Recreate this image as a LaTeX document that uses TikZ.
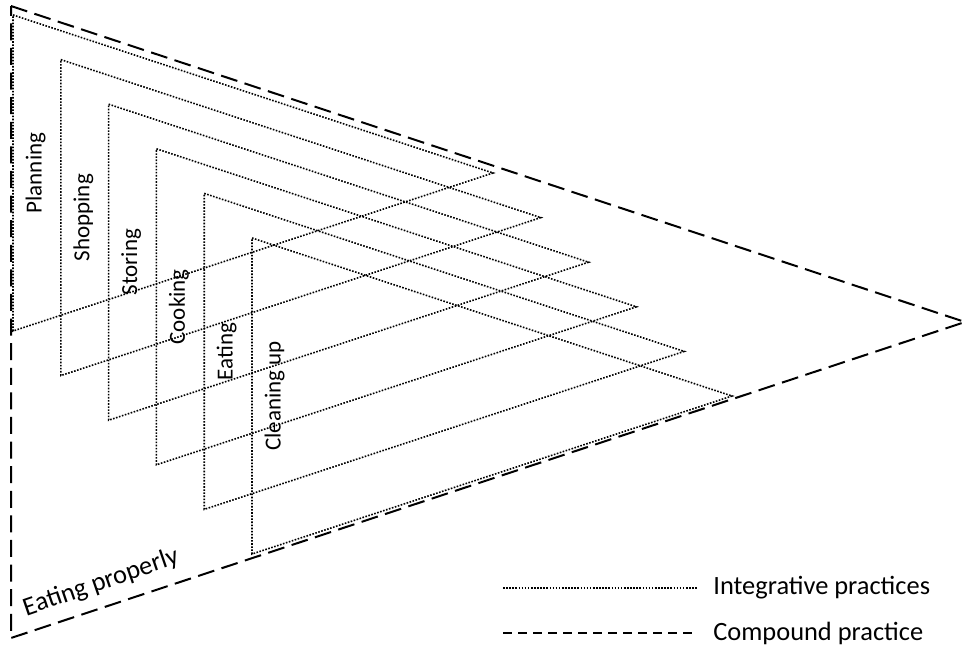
\documentclass[tikz,border=0pt]{standalone}
\usepackage{fontspec}
\setmainfont{Carlito}
\usepackage{tikz}
\usetikzlibrary{calc}
\tikzset{
  integr/.style={line width=0.8pt,dash pattern=on 0.8pt off 0.75pt},
  compnd/.style={line width=1pt,dash pattern=on 8.5pt off 3.8pt},
  compndkey/.style={line width=1pt,dash pattern=on 4.5pt off 3pt},
  lbl/.style={rotate=90,inner sep=0pt,font=\fontsize{11.5}{13}\selectfont},
  keytext/.style={anchor=west,inner sep=0pt,font=\fontsize{13.2}{15}\selectfont}
}
\begin{document}
\begin{tikzpicture}[line cap=butt,line join=miter,x=0.5pt,y=-0.5pt]
	\useasboundingbox (0,0) rectangle (967,648);
	% compound practice
	\coordinate (ctop) at (11,6);
	\coordinate (ctip) at (965,322);
	\coordinate (cbot) at (11,638);
	\draw[compnd] (ctop) -- (ctip) -- (cbot) -- cycle;
	% integrative practices
	\foreach \i/\name in {0/Planning,1/Shopping,2/Storing,3/Cooking,4/Eating,5/Cleaning up} {
		\coordinate (t\i) at ({13+47.8*\i},{15+44.6*\i});
		\coordinate (a\i) at ($(t\i)+(480,158)$);
		\coordinate (b\i) at ($(t\i)+(0,316)$);
		\draw[integr] (t\i) -- (a\i) -- (b\i) -- cycle;
		\node[lbl] (l\i) at ($(t\i)+(22.5,158)$) {\name};
	}
	\node[rotate=19,inner sep=0pt,font=\fontsize{13.2}{15}\selectfont] (whole) at (101,583) {Eating properly};
	% key
	\coordinate (k1a) at (503,588);
	\coordinate (k1b) at (697,588);
	\coordinate (k2a) at (503,633);
	\coordinate (k2b) at (697,633);
	\draw[integr] (k1a) -- (k1b);
	\draw[compndkey] (k2a) -- (k2b);
	\node[keytext] (key1) at (713,588) {Integrative practices};
	\node[keytext] (key2) at (713,633) {Compound practice};
\end{tikzpicture}
\end{document}
